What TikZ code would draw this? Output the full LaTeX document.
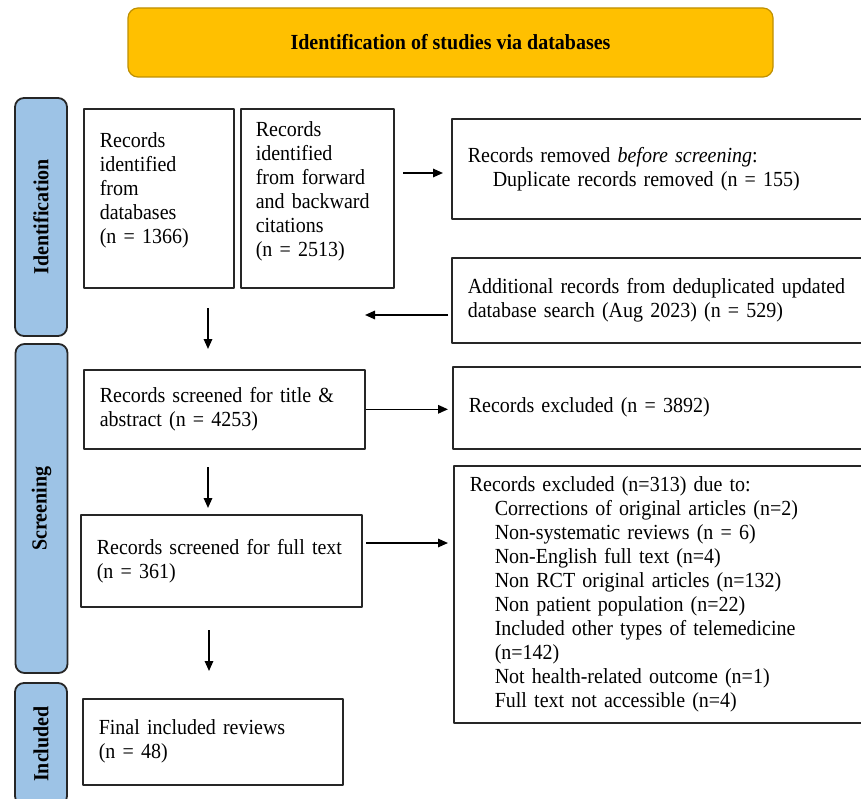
\documentclass[tikz,border=0pt]{standalone}
\usepackage{fontspec}
\setmainfont{Liberation Serif}[FakeStretch=0.93]
\usetikzlibrary{arrows.meta}
\definecolor{titlegold}{HTML}{FFC000}
\definecolor{titleedge}{HTML}{BF9000}
\definecolor{sideblue}{HTML}{9DC3E6}
\definecolor{edgegray}{HTML}{262626}
\newcommand{\ind}{\hspace*{25pt}}
\begin{document}
\begin{tikzpicture}[x=1pt,y=-1pt,>={Triangle[length=10pt,width=8.5pt]},line join=round,
	font=\fontsize{21.5}{24}\selectfont,
	box/.style={draw=edgegray,line width=1.6pt,anchor=north west,align=left,inner xsep=16pt,inner ysep=0pt},
	side/.style={draw=edgegray,fill=sideblue,line width=1.8pt,rounded corners=9pt,rotate=90,minimum height=52pt,font=\fontsize{21.5}{24}\selectfont\bfseries},
	arr/.style={->,line width=1.6pt}]
	\clip (0,0) rectangle (861,799);
	% heading and phase labels
	\node[draw=titleedge,fill=titlegold,line width=1.2pt,rounded corners=10pt,minimum width=645pt,minimum height=69pt,font=\fontsize{21.5}{24}\selectfont\bfseries] (head) at (450.5,42.5) {Identification of studies via databases};
	\node[side,minimum width=238pt] (idlab) at (41,217) {Identification};
	\node[side,minimum width=329pt] (scrlab) at (41.5,508.5) {Screening};
	\node[side,minimum width=122pt] (inclab) at (41,744) {Included};
	% left column
	\node[box,text width=118pt,minimum height=179pt,text depth=117pt] (db) at (83,108) {Records\\identified\\from\\databases\\(n = 1366)};
	\node[box,inner xsep=15pt,text width=123pt,minimum height=179pt,text depth=139pt] (cit) at (240,108) {Records\\identified\\from forward\\and backward\\citations\\(n = 2513)};
	\node[box,text width=249pt,minimum height=79pt] (ta) at (83,369) {Records screened for title \&\\abstract (n = 4253)};
	\node[box,text width=249pt,minimum height=92pt] (ft) at (80,514) {Records screened for full~text\\(n = 361)};
	\node[box,text width=228pt,minimum height=86pt] (final) at (82,698) {Final included reviews\\(n = 48)};
	% right column
	\node[box,text width=420pt,minimum height=100pt] (removed) at (451,118) {Records removed \emph{before screening}:\\\ind Duplicate records removed (n = 155)};
	\node[box,text width=420pt,minimum height=85pt] (added) at (451,257) {Additional records from deduplicated updated\\database search (Aug 2023) (n = 529)};
	\node[box,text width=420pt,minimum height=82pt] (excl) at (452,366) {Records excluded (n = 3892)};
	\node[box,text width=420pt,minimum height=257pt] (reasons) at (453,465) {Records excluded (n=313) due to:\\
		\ind Corrections of original articles (n=2)\\
		\ind Non-systematic reviews (n = 6)\\
		\ind Non-English full text (n=4)\\
		\ind Non RCT original articles (n=132)\\
		\ind Non patient population (n=22)\\
		\ind Included other types of telemedicine\\
		\ind (n=142)\\
		\ind Not health-related outcome (n=1)\\
		\ind Full text not accessible (n=4)};
	% arrows
	\coordinate (c1) at (403,173);
	\coordinate (c2) at (365,315);
	\coordinate (c3) at (366,543);
	\coordinate (d1) at (208,308);
	\coordinate (d2) at (208,467);
	\coordinate (d3) at (209,630);
	\draw[arr,shorten >=8pt] (c1) -- (c1 -| removed.west);
	\draw[arr,shorten <=3pt] (c2 -| added.west) -- (c2);
	\draw[arr,shorten >=20pt] (d1) -- (d1 |- ta.north);
	\draw[arr,shorten >=4pt] (ta.east) -- (ta.east -| excl.west);
	\draw[arr,shorten >=6pt] (d2) -- (d2 |- ft.north);
	\draw[arr,shorten >=5pt] (c3) -- (c3 -| reasons.west);
	\draw[arr,shorten >=27pt] (d3) -- (d3 |- final.north);
\end{tikzpicture}
\end{document}
